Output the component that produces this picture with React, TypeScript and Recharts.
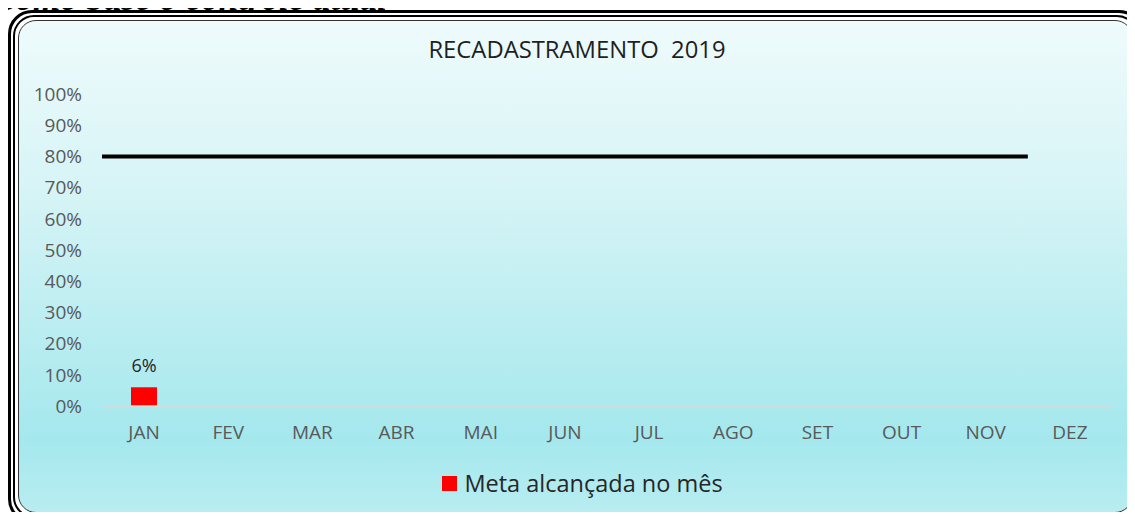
import {
  Bar,
  ComposedChart,
  LabelList,
  Legend,
  ReferenceLine,
  XAxis,
  YAxis,
} from "recharts";

const meses = ["JAN", "FEV", "MAR", "ABR", "MAI", "JUN", "JUL", "AGO", "SET", "OUT", "NOV", "DEZ"];
const metaAlcancada: (number | null)[] = [6, null, null, null, null, null, null, null, null, null, null, null];
const yTicks = [0, 10, 20, 30, 40, 50, 60, 70, 80, 90, 100];
const metaAnual = 80;
const metaInicio = "JAN";
const metaFim = "DEZ";

const data = meses.map((mes, i) => ({ mes, alcancada: metaAlcancada[i] }));

const FONT = '"Open Sans", sans-serif';

function LegendaMeta(props: any): JSX.Element {
  const items = props.payload ?? [];
  return (
    <div style={{ display: "flex", justifyContent: "center" }}>
      {items.map((item: any) => (
        <div key={item.value} style={{ display: "flex", alignItems: "center" }}>
          <span
            style={{
              display: "inline-block",
              width: 15,
              height: 15,
              background: item.color,
              marginRight: 7,
            }}
          />
          <span style={{ color: "#262626", fontSize: 23.5, fontFamily: FONT, lineHeight: "30px" }}>
            {item.value}
          </span>
        </div>
      ))}
    </div>
  );
}

export default function App(): JSX.Element {
  return (
    <div
      style={{
        position: "relative",
        width: 1135,
        height: 520,
        margin: -8,
        overflow: "hidden",
        background: "#fff",
      }}
    >
      {/* texto cortado do documento */}
      <div
        style={{
          position: "absolute",
          left: 0,
          top: -19,
          fontFamily: '"Liberation Serif", serif',
          fontStyle: "italic",
          fontWeight: "bold",
          fontSize: 35,
          lineHeight: "35px",
          whiteSpace: "nowrap",
        }}
      >
        como base o controle atual
      </div>

      {/* moldura dupla */}
      <div
        style={{
          position: "absolute",
          left: 8,
          top: 10,
          width: 1135,
          height: 513,
          boxSizing: "border-box",
          border: "3px solid #000",
          borderRadius: 24,
          padding: 2,
          background: "#fff",
        }}
      >
        <div
          style={{
            width: "100%",
            height: "100%",
            boxSizing: "border-box",
            border: "2px solid #000",
            borderRadius: 21,
            padding: 3,
            background: "#fff",
          }}
        >
          <div
            style={{
              width: "100%",
              height: "100%",
              boxSizing: "border-box",
              border: "1.5px solid #333",
              borderRadius: 18,
              background:
                "linear-gradient(to bottom, #effbfc 0%, #d6f4f6 35%, #a4e8ed 85%, #b8edf1 100%)",
            }}
          />
        </div>
      </div>

      <div
        style={{
          position: "absolute",
          left: 0,
          top: 38,
          width: 1154,
          textAlign: "center",
          fontFamily: FONT,
          fontSize: 23.8,
          lineHeight: "23px",
          color: "#1f1f1f",
          whiteSpace: "pre",
        }}
      >
        RECADASTRAMENTO  2019
      </div>

      <div style={{ position: "absolute", left: 0, top: 0 }}>
        <ComposedChart
          width={1135}
          height={520}
          data={data}
          margin={{ top: 94, right: 23, bottom: 84, left: 32 }}
        >
          <XAxis
            dataKey="mes"
            axisLine={{ stroke: "#d9d9d9", strokeWidth: 1.5 }}
            tickLine={false}
            tickMargin={14}
            tick={{ fill: "#595959", fontSize: 19, fontFamily: FONT }}
          />
          <YAxis
            domain={[0, 100]}
            ticks={yTicks}
            interval={0}
            tickFormatter={(v: number) => `${v}%`}
            axisLine={false}
            tickLine={false}
            width={70}
            tickMargin={14}
            tick={{ fill: "#595959", fontSize: 19, fontFamily: FONT }}
          />
          <Legend
            verticalAlign="middle"
            align="center"
            content={<LegendaMeta />}
            wrapperStyle={{ top: 468, left: 30, width: 1105 }}
          />
          <ReferenceLine
            segment={[
              { x: metaInicio, y: metaAnual },
              { x: metaFim, y: metaAnual },
            ]}
            position="start"
            stroke="#000"
            strokeWidth={4}
          />
          <Bar
            dataKey="alcancada"
            name="Meta alcançada no mês"
            fill="#ff0000"
            barSize={26}
            isAnimationActive={false}
          >
            <LabelList
              dataKey="alcancada"
              position="top"
              offset={15}
              formatter={(v: number | null) => (v == null ? "" : `${v}%`)}
              style={{ fill: "#262626", fontSize: 18, fontFamily: FONT }}
            />
          </Bar>
        </ComposedChart>
      </div>
    </div>
  );
}
